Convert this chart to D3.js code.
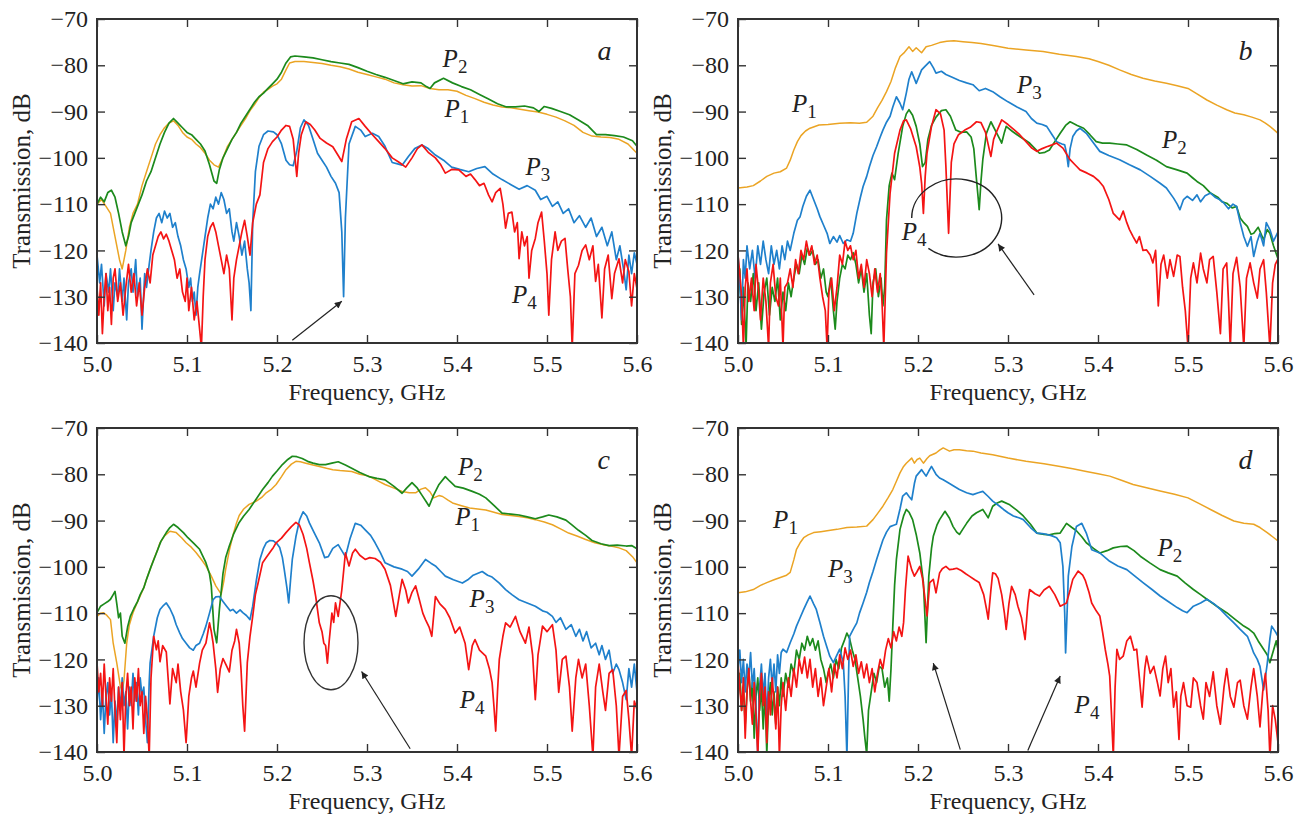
<!DOCTYPE html>
<html>
<head>
<meta charset="utf-8">
<script src="https://cdn.jsdelivr.net/npm/d3@7"></script>
<style>
  body { margin: 0; background: #fff; }
  svg text { font-family: "Liberation Serif", "Times New Roman", serif; fill: #222; }
</style>
</head>
<body>
<svg id="chart" width="1305" height="820"></svg>
<script>
// axis values
var freqTicks = [5.0, 5.1, 5.2, 5.3, 5.4, 5.5, 5.6];
var dbTicks = [-70, -80, -90, -100, -110, -120, -130, -140];
var panelNames = ["a", "b", "c", "d"];
var seriesNames = ["P1", "P2", "P3", "P4"];

// ---- panel a : [frequency GHz, transmission dB]
var aP1 = [[5.000,-110],[5.005,-109],[5.010,-110.5],[5.015,-112],[5.020,-117],[5.025,-122],[5.028,-124],[5.032,-120],[5.036,-115],[5.040,-112],[5.045,-110],[5.050,-106],[5.055,-103],[5.060,-100],[5.065,-97],[5.070,-95],[5.075,-93.5],[5.080,-92.5],[5.085,-92],[5.090,-93],[5.095,-94.5],[5.100,-95.5],[5.105,-96],[5.110,-97],[5.115,-97.8],[5.120,-99],[5.125,-100.5],[5.130,-101.5],[5.135,-102],[5.140,-100],[5.145,-97.5],[5.150,-96],[5.155,-94.5],[5.160,-93],[5.165,-91.5],[5.170,-89.8],[5.175,-88.5],[5.180,-87],[5.185,-85.8],[5.190,-85.2],[5.195,-84.5],[5.200,-84],[5.205,-83],[5.210,-81],[5.214,-79.5],[5.220,-79.2],[5.230,-79.2],[5.240,-79.4],[5.250,-79.6],[5.260,-80],[5.270,-80.3],[5.280,-80.8],[5.290,-81.5],[5.300,-82],[5.310,-82.5],[5.320,-83],[5.330,-83.8],[5.340,-84.2],[5.350,-84.5],[5.360,-84.4],[5.370,-85],[5.380,-85.3],[5.390,-85.3],[5.400,-85.6],[5.410,-86.5],[5.420,-87.2],[5.430,-88],[5.440,-88.6],[5.450,-89],[5.460,-89.2],[5.470,-89.5],[5.480,-89.8],[5.490,-90.1],[5.500,-90.6],[5.510,-91.2],[5.520,-92],[5.530,-93],[5.540,-94.5],[5.550,-95.3],[5.560,-95.5],[5.570,-95.6],[5.580,-96],[5.590,-97],[5.600,-99]];
var aP2 = [[5.000,-110],[5.004,-108.5],[5.008,-109.5],[5.012,-107.5],[5.016,-107],[5.020,-108.5],[5.024,-112],[5.028,-116],[5.032,-119],[5.035,-117],[5.038,-114],[5.042,-112],[5.046,-110],[5.050,-108],[5.055,-105],[5.060,-103],[5.065,-100],[5.070,-97],[5.075,-94.5],[5.080,-92.5],[5.085,-91.5],[5.090,-92.5],[5.095,-93.5],[5.100,-94.5],[5.105,-95],[5.110,-96],[5.115,-97],[5.120,-98.5],[5.125,-101.5],[5.130,-105],[5.133,-105.5],[5.136,-102.5],[5.140,-100],[5.145,-98],[5.150,-96],[5.155,-94.5],[5.160,-92.5],[5.165,-91],[5.170,-89.5],[5.175,-88],[5.180,-86.8],[5.185,-86],[5.190,-85],[5.195,-84],[5.200,-83],[5.205,-81.5],[5.210,-79.5],[5.215,-78.2],[5.220,-78],[5.230,-78.2],[5.240,-78.4],[5.250,-78.8],[5.260,-79.2],[5.270,-79.5],[5.280,-79.8],[5.290,-80.5],[5.300,-81.3],[5.310,-82],[5.320,-82.6],[5.330,-83.3],[5.340,-84],[5.350,-83.6],[5.360,-83.8],[5.366,-84.6],[5.370,-85],[5.375,-83.8],[5.385,-82.8],[5.395,-83.8],[5.405,-84.6],[5.415,-85.3],[5.425,-86.3],[5.435,-87.3],[5.445,-88.3],[5.455,-89],[5.465,-89],[5.475,-88.8],[5.485,-89.2],[5.491,-90],[5.497,-88.9],[5.505,-89.3],[5.515,-90],[5.525,-90.7],[5.535,-91.8],[5.545,-93],[5.555,-95],[5.565,-95],[5.575,-95.2],[5.585,-95.5],[5.595,-96.3],[5.600,-97.5]];
var aP3 = [[5.000,-121],[5.003,-127],[5.005,-123],[5.008,-132],[5.010,-125],[5.013,-129],[5.015,-124],[5.018,-133],[5.020,-127],[5.023,-130],[5.025,-124],[5.028,-131],[5.030,-126],[5.033,-135],[5.035,-127],[5.038,-124],[5.040,-129],[5.043,-122],[5.045,-130],[5.048,-126],[5.050,-137],[5.053,-125],[5.055,-128],[5.058,-123],[5.060,-120],[5.063,-116],[5.066,-113],[5.069,-112],[5.072,-114],[5.075,-111.5],[5.078,-113],[5.081,-112],[5.084,-115],[5.087,-114],[5.090,-117],[5.093,-119],[5.096,-122],[5.099,-124],[5.102,-128],[5.104,-126],[5.106,-131],[5.108,-129],[5.110,-134],[5.112,-128],[5.114,-125],[5.117,-121],[5.120,-117],[5.123,-113],[5.126,-110],[5.129,-111],[5.132,-108.5],[5.135,-110],[5.138,-107.5],[5.141,-109],[5.144,-112],[5.147,-111],[5.150,-116],[5.152,-118],[5.155,-114],[5.158,-117],[5.161,-121],[5.164,-118],[5.167,-124],[5.169,-127],[5.171,-133],[5.173,-114],[5.176,-103],[5.180,-97.5],[5.185,-95],[5.190,-94.2],[5.196,-94.4],[5.200,-95],[5.205,-97],[5.210,-100.5],[5.214,-101.5],[5.218,-101.7],[5.222,-98.5],[5.226,-93.5],[5.230,-91.8],[5.235,-93],[5.240,-96],[5.245,-99],[5.250,-100.5],[5.255,-102],[5.260,-104],[5.265,-105.5],[5.269,-107.5],[5.272,-116],[5.274,-130],[5.276,-113],[5.280,-97],[5.287,-93.2],[5.293,-94],[5.298,-95.4],[5.306,-94.7],[5.313,-95.4],[5.320,-97.5],[5.328,-101],[5.334,-101.3],[5.339,-101.6],[5.346,-99.7],[5.353,-98],[5.361,-97.2],[5.368,-98],[5.376,-99.4],[5.385,-100.5],[5.394,-102],[5.403,-102.5],[5.413,-103],[5.422,-102.3],[5.431,-101.9],[5.440,-103.5],[5.450,-104.7],[5.460,-105.8],[5.469,-106.8],[5.478,-106],[5.487,-107],[5.493,-109],[5.500,-108.3],[5.506,-110.5],[5.512,-109.5],[5.518,-112],[5.524,-111],[5.530,-114],[5.536,-112.5],[5.543,-115],[5.549,-113],[5.555,-117],[5.561,-115],[5.567,-119],[5.572,-116],[5.577,-122],[5.581,-119],[5.585,-124],[5.588,-128.5],[5.591,-121],[5.594,-125],[5.597,-120.5],[5.600,-123]];
var aP4 = [[5.000,-128],[5.002,-134],[5.004,-127],[5.006,-138],[5.008,-130],[5.010,-125],[5.012,-133],[5.014,-128],[5.016,-136],[5.018,-126],[5.020,-124],[5.023,-131],[5.026,-127],[5.029,-134],[5.032,-128],[5.035,-123],[5.038,-129],[5.041,-125],[5.044,-132],[5.047,-127],[5.050,-134],[5.053,-128],[5.056,-124],[5.059,-127],[5.062,-121],[5.065,-119],[5.068,-117],[5.071,-116],[5.074,-117.5],[5.077,-116.5],[5.080,-118],[5.083,-120],[5.086,-122],[5.089,-126],[5.092,-124],[5.095,-129],[5.098,-131],[5.100,-126],[5.102,-133],[5.105,-128],[5.108,-135],[5.111,-131],[5.114,-137],[5.116,-141],[5.118,-130],[5.120,-122],[5.123,-117],[5.126,-115],[5.129,-114],[5.132,-116],[5.135,-119],[5.138,-122],[5.141,-125],[5.144,-121],[5.147,-124],[5.150,-135],[5.152,-126],[5.155,-122],[5.158,-119],[5.161,-116],[5.164,-113.5],[5.167,-117],[5.170,-121],[5.173,-114],[5.177,-110],[5.181,-108],[5.185,-101],[5.190,-98],[5.195,-96.5],[5.200,-95.5],[5.205,-94],[5.210,-93],[5.214,-93.2],[5.218,-96],[5.221,-102],[5.222,-104],[5.224,-99],[5.227,-95],[5.232,-92.2],[5.237,-92.8],[5.242,-94],[5.248,-95.8],[5.255,-96.8],[5.262,-97.6],[5.268,-99.5],[5.272,-100.8],[5.277,-96],[5.283,-92.2],[5.291,-91.5],[5.298,-93.2],[5.305,-94.8],[5.313,-96.5],[5.320,-98],[5.328,-100],[5.336,-101],[5.343,-102],[5.350,-100],[5.356,-98],[5.361,-97.2],[5.368,-98.8],[5.376,-100],[5.382,-101.5],[5.387,-103.3],[5.394,-102.5],[5.402,-102.6],[5.410,-104],[5.415,-103.5],[5.420,-104.7],[5.425,-106],[5.430,-105.5],[5.435,-108],[5.439,-109.5],[5.443,-107.5],[5.448,-106.6],[5.451,-110],[5.454,-115.2],[5.457,-112],[5.461,-111.7],[5.464,-116],[5.467,-114],[5.469,-121.8],[5.472,-116],[5.475,-119],[5.478,-117],[5.480,-126],[5.483,-120],[5.487,-117.4],[5.490,-114],[5.494,-111.7],[5.497,-118],[5.500,-125],[5.502,-134],[5.505,-122],[5.509,-116],[5.512,-120],[5.516,-118],[5.520,-117.4],[5.523,-124],[5.526,-130],[5.528,-141],[5.531,-125],[5.535,-123.2],[5.539,-120],[5.543,-118.8],[5.547,-122],[5.551,-119],[5.554,-126.7],[5.557,-123],[5.561,-134.6],[5.564,-124],[5.568,-121],[5.572,-130.4],[5.575,-125],[5.580,-121.8],[5.584,-127],[5.587,-122],[5.591,-124.6],[5.594,-132],[5.597,-125],[5.600,-128.3]];

// ---- panel b
var bP1 = [[5.000,-106.5],[5.010,-106.3],[5.017,-106],[5.025,-105],[5.032,-104],[5.040,-103.3],[5.047,-103],[5.054,-102.2],[5.058,-100.5],[5.062,-98.3],[5.066,-96.5],[5.070,-95.2],[5.075,-94.2],[5.080,-93.6],[5.090,-92.9],[5.100,-92.8],[5.113,-92.5],[5.125,-92.4],[5.135,-92.5],[5.143,-92.3],[5.150,-91],[5.155,-89.2],[5.160,-87.6],[5.165,-85.7],[5.170,-83.5],[5.175,-80.5],[5.180,-78.1],[5.185,-77.2],[5.190,-76],[5.194,-77],[5.198,-76.2],[5.204,-77.3],[5.209,-76],[5.215,-75.7],[5.224,-75.1],[5.232,-74.8],[5.240,-74.7],[5.250,-74.9],[5.260,-75.1],[5.270,-75.3],[5.285,-75.8],[5.300,-76.3],[5.320,-76.7],[5.339,-77],[5.357,-77.6],[5.376,-78.1],[5.390,-78.6],[5.400,-79.2],[5.412,-80],[5.424,-81],[5.437,-82],[5.450,-82.8],[5.463,-83.4],[5.476,-83.9],[5.488,-84.4],[5.500,-85],[5.510,-86.2],[5.521,-87.5],[5.532,-88.6],[5.543,-89.6],[5.552,-90.3],[5.562,-90.7],[5.571,-91.2],[5.580,-91.8],[5.586,-92.5],[5.591,-93.2],[5.596,-94],[5.600,-94.7]];
var bP2 = [[5.000,-130],[5.002,-124],[5.004,-136],[5.006,-128],[5.009,-140.5],[5.011,-127],[5.014,-131],[5.017,-125],[5.020,-133],[5.023,-127],[5.026,-137],[5.029,-129],[5.032,-126],[5.035,-134],[5.038,-128],[5.041,-131],[5.044,-126],[5.047,-135],[5.050,-129],[5.053,-133],[5.056,-127],[5.059,-130],[5.062,-126],[5.065,-123],[5.068,-125],[5.071,-121],[5.074,-123],[5.077,-119.5],[5.080,-121],[5.083,-120],[5.086,-123],[5.089,-122],[5.092,-126],[5.095,-124],[5.098,-129],[5.100,-130],[5.103,-126],[5.106,-133],[5.108,-137],[5.110,-131],[5.113,-126],[5.116,-123],[5.119,-124],[5.122,-121],[5.125,-122],[5.128,-120.5],[5.131,-123],[5.134,-127],[5.137,-124],[5.140,-129],[5.143,-125],[5.146,-134],[5.148,-138],[5.150,-127],[5.153,-124],[5.156,-130],[5.159,-126],[5.161,-132],[5.163,-128],[5.165,-113.4],[5.168,-106],[5.171,-103.3],[5.174,-104.7],[5.178,-99],[5.183,-93.2],[5.187,-90.5],[5.190,-89.6],[5.194,-90.8],[5.198,-93.2],[5.202,-97],[5.205,-101.9],[5.208,-101],[5.211,-96],[5.215,-93],[5.220,-91.2],[5.226,-89.8],[5.231,-89.6],[5.236,-91],[5.242,-94],[5.248,-94.5],[5.254,-94.4],[5.259,-95.5],[5.262,-98],[5.265,-104.7],[5.267,-109],[5.268,-111.2],[5.270,-105],[5.272,-100.4],[5.276,-94.7],[5.281,-92.2],[5.287,-94.5],[5.291,-96],[5.293,-96.8],[5.296,-94.5],[5.298,-93.2],[5.305,-94.3],[5.313,-95.4],[5.324,-96.8],[5.335,-99],[5.341,-98.8],[5.346,-98.3],[5.352,-96.5],[5.358,-94.7],[5.364,-93],[5.369,-92.2],[5.377,-93],[5.384,-93.6],[5.391,-95],[5.398,-96.5],[5.405,-96.8],[5.413,-96.8],[5.422,-97],[5.432,-97.2],[5.443,-98.2],[5.454,-99.4],[5.465,-100.5],[5.476,-101.9],[5.488,-102.6],[5.499,-103.3],[5.505,-104.3],[5.510,-105.1],[5.517,-106],[5.525,-107.6],[5.533,-108.5],[5.538,-109.5],[5.543,-109.8],[5.549,-110.8],[5.554,-110.5],[5.558,-113],[5.562,-114],[5.566,-114.8],[5.570,-116.5],[5.573,-116.3],[5.578,-115],[5.584,-117.7],[5.588,-115.5],[5.591,-116.3],[5.595,-119],[5.600,-121.8]];
var bP3 = [[5.000,-121],[5.002,-127],[5.004,-135],[5.006,-122],[5.008,-126],[5.010,-119],[5.013,-124],[5.016,-120],[5.019,-126],[5.022,-119],[5.025,-123],[5.028,-118],[5.031,-122],[5.034,-125],[5.037,-119],[5.040,-123],[5.043,-120],[5.046,-124],[5.049,-119],[5.052,-122],[5.055,-118],[5.058,-120],[5.062,-116.3],[5.066,-113.5],[5.069,-112.7],[5.072,-110.5],[5.076,-108.3],[5.080,-107],[5.084,-109],[5.088,-111],[5.091,-112.7],[5.095,-114.5],[5.099,-116.3],[5.102,-118.5],[5.106,-117],[5.110,-118.2],[5.113,-116.8],[5.117,-118.5],[5.121,-117.7],[5.125,-118],[5.128,-116.3],[5.132,-112],[5.136,-108.5],[5.139,-106.2],[5.143,-104],[5.146,-101.9],[5.150,-99.5],[5.154,-97.6],[5.158,-95.5],[5.161,-94],[5.165,-92.3],[5.169,-91],[5.172,-89],[5.176,-86.8],[5.180,-88.2],[5.183,-89.6],[5.187,-86],[5.190,-83],[5.193,-81.4],[5.198,-83.9],[5.204,-81],[5.208,-80.2],[5.213,-79.2],[5.217,-80.5],[5.220,-81.7],[5.226,-81.3],[5.231,-82],[5.238,-82.6],[5.246,-83.3],[5.254,-83.8],[5.261,-84.2],[5.268,-85.5],[5.275,-85],[5.283,-85.7],[5.291,-86.8],[5.300,-87.9],[5.310,-89],[5.320,-90],[5.326,-91.5],[5.332,-92.5],[5.338,-92.8],[5.343,-93.2],[5.349,-95],[5.354,-96.5],[5.360,-97],[5.363,-97.2],[5.365,-99],[5.367,-101.9],[5.369,-98],[5.372,-95.4],[5.376,-94.2],[5.380,-93.6],[5.387,-94.7],[5.394,-96.5],[5.402,-98.6],[5.412,-99.5],[5.424,-100.4],[5.435,-101.5],[5.447,-102.6],[5.458,-104],[5.469,-105.5],[5.476,-106.5],[5.484,-108.7],[5.488,-110],[5.491,-111.2],[5.495,-109],[5.499,-108.3],[5.505,-109.2],[5.510,-108],[5.514,-109.5],[5.519,-108.2],[5.525,-107.6],[5.530,-108.5],[5.535,-109],[5.540,-109.8],[5.545,-111],[5.550,-110],[5.554,-110.5],[5.558,-114],[5.562,-117],[5.566,-119.1],[5.570,-117],[5.573,-121.3],[5.577,-118],[5.580,-116.3],[5.584,-119],[5.587,-114],[5.591,-115.5],[5.595,-118],[5.600,-116]];
var bP4 = [[5.000,-121],[5.002,-125],[5.004,-130],[5.006,-141],[5.008,-128],[5.010,-124],[5.012,-131],[5.015,-126],[5.018,-133],[5.020,-123],[5.023,-129],[5.025,-135],[5.028,-126],[5.031,-131],[5.034,-141],[5.036,-127],[5.039,-123],[5.042,-130],[5.045,-132],[5.047,-126],[5.050,-141],[5.052,-128],[5.055,-127],[5.058,-124],[5.061,-128],[5.064,-122],[5.067,-125],[5.070,-120],[5.073,-122],[5.076,-118],[5.079,-121],[5.082,-119],[5.085,-123],[5.088,-121],[5.091,-126],[5.094,-130],[5.097,-133],[5.099,-141],[5.101,-129],[5.104,-126],[5.107,-133],[5.110,-128],[5.113,-121],[5.116,-123],[5.119,-118],[5.122,-120],[5.125,-119],[5.128,-122],[5.131,-120],[5.134,-126],[5.137,-123],[5.140,-128],[5.143,-122],[5.146,-125],[5.149,-130],[5.152,-124],[5.155,-129],[5.158,-125],[5.160,-131],[5.162,-141],[5.165,-120.6],[5.169,-107.6],[5.174,-99],[5.180,-94],[5.184,-92],[5.187,-91.8],[5.192,-93.8],[5.198,-97.6],[5.202,-102],[5.204,-105.5],[5.206,-112],[5.208,-104],[5.210,-99],[5.215,-93.2],[5.220,-89.6],[5.225,-90.5],[5.229,-94],[5.231,-101.9],[5.234,-116.3],[5.237,-101],[5.240,-97],[5.245,-95],[5.252,-94],[5.258,-93.4],[5.265,-92.2],[5.270,-92.4],[5.275,-94.5],[5.279,-98],[5.281,-99.7],[5.284,-96],[5.287,-94.5],[5.293,-91.8],[5.300,-92.8],[5.306,-93.8],[5.313,-95],[5.320,-96.5],[5.326,-97.8],[5.332,-98.6],[5.338,-98],[5.343,-97.6],[5.349,-97.2],[5.354,-96.8],[5.361,-97.9],[5.369,-100.4],[5.375,-101.6],[5.380,-102.6],[5.388,-103.3],[5.395,-104],[5.401,-105],[5.406,-106.2],[5.412,-109],[5.417,-112],[5.421,-112.8],[5.424,-113.4],[5.428,-111.5],[5.432,-114],[5.435,-115.5],[5.439,-117],[5.443,-118.4],[5.446,-117],[5.450,-120],[5.454,-119.9],[5.458,-121],[5.461,-122.7],[5.464,-120],[5.467,-132],[5.470,-123],[5.473,-121],[5.477,-126],[5.480,-122],[5.484,-125.6],[5.488,-121],[5.491,-121.3],[5.494,-128],[5.497,-133],[5.500,-141],[5.503,-126],[5.506,-122.7],[5.510,-127],[5.514,-120.6],[5.517,-124],[5.521,-127],[5.524,-122],[5.528,-121.3],[5.532,-129],[5.536,-138],[5.539,-124],[5.543,-122.7],[5.545,-131],[5.547,-141],[5.550,-125],[5.554,-121.5],[5.558,-128],[5.562,-141],[5.565,-126],[5.569,-122.7],[5.573,-127],[5.577,-130.3],[5.580,-124],[5.584,-122],[5.587,-129],[5.591,-141],[5.594,-127],[5.597,-123],[5.600,-121.8]];

// ---- panel c
var cP1 = [[5.000,-110.7],[5.004,-110],[5.007,-109.9],[5.011,-110.5],[5.015,-111.4],[5.018,-116.5],[5.022,-120.8],[5.026,-125.8],[5.028,-127],[5.030,-124.5],[5.033,-116.5],[5.036,-112.5],[5.040,-109.9],[5.044,-108],[5.048,-106.3],[5.052,-104.5],[5.055,-102.7],[5.059,-100.5],[5.063,-98.4],[5.067,-96.5],[5.070,-94.8],[5.075,-93.3],[5.081,-92.3],[5.088,-92.6],[5.094,-93.7],[5.099,-94.8],[5.105,-95.8],[5.110,-96.9],[5.116,-98.4],[5.121,-99.8],[5.127,-102],[5.132,-104.1],[5.138,-105.9],[5.141,-103],[5.143,-100.5],[5.147,-96.5],[5.151,-93.2],[5.155,-90.5],[5.158,-88.9],[5.163,-87.5],[5.169,-86.5],[5.177,-85.8],[5.183,-85],[5.188,-84],[5.194,-83.2],[5.199,-82.2],[5.205,-80.5],[5.210,-79],[5.216,-77.8],[5.221,-77.2],[5.226,-77.3],[5.232,-77.6],[5.240,-78],[5.247,-78.3],[5.255,-78.7],[5.262,-79],[5.270,-79.2],[5.283,-79.4],[5.292,-80],[5.302,-80.4],[5.311,-81.3],[5.320,-82.2],[5.330,-83],[5.339,-83.7],[5.347,-84],[5.354,-84],[5.360,-83.2],[5.365,-82.9],[5.370,-83.8],[5.374,-85.1],[5.380,-84.6],[5.384,-84.8],[5.390,-85.6],[5.395,-86.2],[5.405,-86.8],[5.414,-87.3],[5.423,-87.5],[5.432,-87.7],[5.441,-88.2],[5.450,-88.7],[5.460,-88.9],[5.469,-89.1],[5.478,-89.4],[5.487,-89.8],[5.497,-90.3],[5.506,-90.9],[5.515,-91.8],[5.524,-92.7],[5.534,-93.4],[5.543,-94.1],[5.553,-94.8],[5.562,-95.2],[5.571,-95.5],[5.580,-95.9],[5.588,-96.5],[5.595,-97.8],[5.600,-99.1]];
var cP2 = [[5.000,-109.9],[5.004,-108.5],[5.008,-108],[5.012,-107.5],[5.015,-107],[5.018,-106],[5.020,-105.3],[5.022,-108],[5.024,-111],[5.026,-110],[5.028,-115],[5.031,-116.5],[5.034,-113],[5.037,-110.7],[5.041,-109],[5.045,-107.5],[5.048,-106],[5.052,-104.5],[5.055,-102.7],[5.060,-100],[5.066,-97],[5.071,-94.5],[5.077,-92.6],[5.081,-91.5],[5.085,-90.8],[5.090,-91.5],[5.096,-92.6],[5.101,-93.7],[5.107,-94.8],[5.114,-96.2],[5.121,-99.1],[5.125,-101.5],[5.127,-104.1],[5.130,-113.5],[5.133,-116.4],[5.136,-109.2],[5.140,-101.4],[5.143,-98],[5.147,-95.5],[5.152,-92.8],[5.158,-90.4],[5.163,-89],[5.169,-87.6],[5.176,-85.6],[5.184,-83.3],[5.190,-81.8],[5.195,-80.4],[5.200,-79.3],[5.206,-77.9],[5.212,-76.8],[5.217,-76.1],[5.222,-76.2],[5.228,-76.6],[5.234,-77.2],[5.240,-77.6],[5.247,-77.9],[5.254,-77.9],[5.261,-77.6],[5.268,-77.3],[5.276,-78],[5.283,-78.7],[5.292,-79.6],[5.302,-80.5],[5.311,-80.9],[5.320,-81.2],[5.330,-82.6],[5.339,-84.1],[5.344,-83],[5.350,-81.8],[5.356,-83],[5.361,-84.5],[5.366,-86],[5.369,-86.9],[5.374,-84.5],[5.380,-82.2],[5.387,-80.5],[5.392,-81.5],[5.398,-82.6],[5.407,-83],[5.417,-83.7],[5.425,-84.3],[5.432,-85.1],[5.441,-86.7],[5.450,-88.4],[5.460,-88.6],[5.469,-88.8],[5.478,-89.2],[5.487,-89.6],[5.495,-89.2],[5.502,-88.8],[5.511,-89.2],[5.521,-89.9],[5.528,-91],[5.535,-92.1],[5.543,-93.2],[5.550,-94.3],[5.560,-95],[5.569,-95.4],[5.578,-95.3],[5.588,-95.5],[5.594,-95.4],[5.600,-96.1]];
var cP3 = [[5.000,-129.6],[5.002,-124],[5.004,-133],[5.006,-127],[5.008,-136],[5.010,-128],[5.012,-125],[5.014,-132],[5.016,-127],[5.018,-138],[5.020,-129],[5.022,-134],[5.024,-126],[5.026,-131],[5.028,-124],[5.030,-130],[5.032,-127],[5.034,-135],[5.036,-126],[5.038,-130],[5.040,-123],[5.042,-129],[5.044,-125],[5.046,-132],[5.048,-124],[5.050,-128],[5.052,-126],[5.054,-133],[5.056,-138],[5.058,-125],[5.059,-120.8],[5.063,-115],[5.067,-111],[5.070,-109.2],[5.074,-108.3],[5.077,-107.8],[5.081,-109],[5.085,-110.7],[5.088,-112.5],[5.092,-114.3],[5.095,-115.5],[5.099,-116.5],[5.103,-117.5],[5.107,-118],[5.110,-117],[5.114,-116.5],[5.118,-114.5],[5.121,-112.8],[5.125,-110],[5.129,-107.1],[5.132,-106.5],[5.136,-106.4],[5.140,-107.5],[5.144,-108.5],[5.148,-109.5],[5.151,-109.2],[5.155,-110],[5.159,-109.3],[5.162,-109.9],[5.166,-110.5],[5.170,-111.4],[5.173,-108.5],[5.177,-103],[5.181,-98.4],[5.185,-96],[5.188,-94.8],[5.192,-94.3],[5.196,-94.4],[5.200,-95],[5.203,-95.8],[5.206,-98],[5.208,-100.5],[5.211,-104.5],[5.213,-107.8],[5.215,-103],[5.217,-98.4],[5.221,-93.5],[5.225,-89.9],[5.229,-88.1],[5.233,-89],[5.236,-90.5],[5.241,-92.5],[5.247,-94.8],[5.253,-98],[5.257,-97.8],[5.262,-96],[5.268,-95.2],[5.272,-96.5],[5.276,-97.8],[5.281,-94],[5.287,-90.6],[5.293,-91],[5.298,-92],[5.304,-93.2],[5.309,-94.8],[5.315,-97],[5.320,-99.1],[5.330,-100],[5.339,-100.5],[5.345,-101],[5.350,-102],[5.357,-100.5],[5.365,-98.4],[5.371,-99.2],[5.376,-99.8],[5.382,-101],[5.387,-102],[5.396,-102.8],[5.406,-103.5],[5.412,-102.8],[5.418,-101.8],[5.428,-101],[5.434,-101.8],[5.439,-102.2],[5.447,-103.5],[5.454,-104.9],[5.461,-106],[5.469,-107.1],[5.478,-107.8],[5.487,-108.5],[5.495,-109.5],[5.500,-109.8],[5.506,-110.7],[5.510,-112],[5.515,-111],[5.521,-113.5],[5.527,-112.5],[5.532,-115],[5.536,-113.5],[5.540,-116],[5.544,-114],[5.549,-117.5],[5.554,-116.5],[5.558,-119],[5.561,-117],[5.565,-120],[5.569,-118],[5.573,-123],[5.577,-121],[5.580,-122.2],[5.584,-125],[5.588,-128.7],[5.591,-122],[5.594,-126],[5.597,-121],[5.600,-127]];
var cP4 = [[5.000,-120.8],[5.002,-127],[5.004,-123],[5.006,-130],[5.008,-121],[5.010,-128],[5.012,-134],[5.014,-124],[5.016,-129],[5.018,-122],[5.020,-131],[5.022,-138],[5.024,-126],[5.026,-133],[5.028,-125],[5.030,-141],[5.032,-128],[5.034,-123],[5.036,-130],[5.038,-126],[5.040,-135],[5.042,-124],[5.044,-129],[5.046,-122],[5.048,-130],[5.050,-127],[5.052,-136],[5.054,-128],[5.056,-133],[5.058,-141],[5.060,-124],[5.063,-115],[5.066,-117.9],[5.068,-116],[5.070,-120.5],[5.073,-117],[5.077,-118.4],[5.079,-124],[5.081,-129.6],[5.084,-122],[5.088,-125],[5.090,-121],[5.093,-127],[5.096,-130.9],[5.099,-138],[5.102,-128],[5.105,-124],[5.107,-122.5],[5.110,-126],[5.114,-120.8],[5.117,-118],[5.121,-116.5],[5.125,-112.1],[5.127,-114],[5.129,-116.5],[5.132,-122],[5.134,-127.1],[5.137,-122],[5.140,-119.8],[5.143,-121],[5.147,-122.7],[5.150,-118],[5.153,-116],[5.155,-113.5],[5.158,-116.5],[5.160,-122],[5.162,-130],[5.164,-135.5],[5.167,-120.7],[5.170,-115],[5.173,-110.7],[5.176,-106],[5.179,-103.5],[5.184,-99.1],[5.188,-98],[5.192,-96.9],[5.196,-95.8],[5.199,-94.8],[5.205,-93.8],[5.210,-92.6],[5.216,-91.3],[5.221,-90.4],[5.225,-91],[5.229,-93],[5.233,-96],[5.236,-99.1],[5.240,-103],[5.243,-106.4],[5.247,-112.1],[5.250,-114],[5.252,-116.5],[5.254,-117],[5.256,-120.8],[5.258,-116],[5.261,-110],[5.263,-112],[5.265,-107.8],[5.268,-110.7],[5.272,-105],[5.276,-97],[5.280,-99.8],[5.284,-97],[5.287,-96.2],[5.292,-97.5],[5.298,-98.4],[5.303,-98],[5.309,-98.2],[5.315,-99],[5.320,-100.5],[5.326,-104],[5.332,-110.7],[5.336,-106],[5.339,-102.7],[5.343,-105],[5.346,-107.8],[5.350,-105.5],[5.354,-104.1],[5.358,-107],[5.362,-110],[5.365,-111.4],[5.369,-113],[5.372,-115],[5.376,-106.4],[5.381,-108],[5.387,-109.2],[5.392,-111],[5.398,-114.3],[5.403,-113],[5.409,-116.5],[5.413,-122.2],[5.417,-117],[5.420,-115.7],[5.425,-118],[5.432,-119.3],[5.436,-122],[5.439,-125],[5.441,-130],[5.443,-135.5],[5.445,-127],[5.447,-120],[5.451,-115],[5.454,-112.1],[5.459,-113],[5.465,-110.7],[5.470,-114],[5.476,-116.5],[5.480,-113],[5.484,-119],[5.487,-128.7],[5.490,-119],[5.495,-112.8],[5.500,-114],[5.506,-112.5],[5.510,-118],[5.513,-127.1],[5.517,-120],[5.521,-119.3],[5.525,-126],[5.528,-135.5],[5.532,-124],[5.535,-120],[5.539,-124],[5.543,-121],[5.547,-130],[5.551,-141],[5.554,-126],[5.558,-121],[5.562,-127],[5.565,-131],[5.569,-123],[5.573,-122.2],[5.577,-130],[5.580,-141],[5.584,-128],[5.588,-126.7],[5.591,-133],[5.594,-141],[5.597,-129],[5.600,-130.8]];

// ---- panel d
var dP1 = [[5.000,-105.6],[5.008,-105.4],[5.017,-104.9],[5.025,-104],[5.032,-103.4],[5.040,-102.8],[5.047,-102.3],[5.054,-101.8],[5.058,-101.2],[5.062,-98.5],[5.065,-96.2],[5.069,-94.8],[5.073,-93.7],[5.078,-93.1],[5.084,-92.6],[5.092,-92.4],[5.099,-92.2],[5.110,-91.9],[5.121,-91.5],[5.132,-91.4],[5.143,-91.2],[5.150,-89.8],[5.155,-88.5],[5.161,-86.9],[5.167,-85],[5.172,-83.3],[5.176,-81.5],[5.180,-79.7],[5.184,-78.3],[5.187,-77.6],[5.193,-76.5],[5.196,-77.6],[5.199,-76.8],[5.202,-76.5],[5.206,-77.6],[5.210,-76.6],[5.213,-76],[5.220,-75.4],[5.224,-74.8],[5.228,-74.3],[5.235,-75],[5.240,-74.7],[5.246,-74.7],[5.254,-74.9],[5.261,-75],[5.270,-75.4],[5.283,-75.8],[5.300,-76.5],[5.320,-77.2],[5.340,-77.7],[5.358,-78.3],[5.372,-78.8],[5.387,-79.4],[5.400,-79.9],[5.413,-80.4],[5.426,-81.3],[5.439,-82.2],[5.454,-82.9],[5.469,-83.6],[5.485,-84.3],[5.500,-85.1],[5.512,-86.3],[5.525,-87.6],[5.538,-88.9],[5.551,-90.1],[5.562,-90.6],[5.573,-90.8],[5.580,-91.5],[5.588,-92.6],[5.594,-93.5],[5.600,-94.4]];
var dP2 = [[5.000,-128.6],[5.002,-123],[5.004,-131],[5.006,-126],[5.008,-134],[5.010,-127],[5.012,-122],[5.014,-129],[5.016,-125],[5.018,-137],[5.020,-128],[5.022,-124],[5.024,-131],[5.026,-126],[5.028,-135],[5.030,-127],[5.032,-140.5],[5.034,-129],[5.036,-125],[5.038,-132],[5.040,-127],[5.042,-134],[5.044,-126],[5.046,-130],[5.048,-124],[5.050,-128],[5.053,-123],[5.056,-126],[5.059,-121],[5.062,-123],[5.065,-118],[5.068,-120],[5.071,-116.5],[5.074,-118],[5.077,-115],[5.080,-117],[5.083,-115.5],[5.086,-118],[5.089,-116],[5.092,-120],[5.095,-122],[5.098,-125],[5.100,-123],[5.103,-121],[5.106,-124],[5.109,-120],[5.112,-122],[5.115,-117.5],[5.118,-116],[5.121,-114.3],[5.124,-115.5],[5.127,-118],[5.130,-120],[5.133,-124],[5.136,-128],[5.139,-133],[5.141,-137],[5.143,-140.5],[5.145,-131],[5.148,-127],[5.151,-123],[5.154,-125],[5.157,-121.5],[5.160,-122],[5.163,-126],[5.166,-124],[5.168,-129],[5.170,-122],[5.172,-112.8],[5.174,-104],[5.176,-98.4],[5.180,-91.9],[5.184,-89],[5.187,-87.6],[5.190,-88.2],[5.194,-89.8],[5.198,-93],[5.202,-97],[5.206,-103.4],[5.209,-116.4],[5.212,-102],[5.215,-96],[5.217,-93.4],[5.221,-91],[5.224,-89.8],[5.230,-88],[5.235,-89.5],[5.239,-91.3],[5.243,-92.5],[5.246,-93],[5.250,-91.8],[5.254,-90.6],[5.260,-89],[5.265,-88.3],[5.272,-87.6],[5.275,-88.5],[5.278,-89.4],[5.283,-86.9],[5.288,-86.2],[5.293,-85.8],[5.302,-86.6],[5.310,-87.8],[5.317,-89],[5.325,-90.8],[5.332,-92.7],[5.340,-93],[5.346,-93.1],[5.352,-92.8],[5.358,-92.7],[5.365,-90.6],[5.371,-91.5],[5.376,-92.2],[5.382,-93.5],[5.387,-94.8],[5.395,-96],[5.402,-97],[5.410,-96.5],[5.417,-95.9],[5.425,-95.6],[5.432,-95.5],[5.440,-96.5],[5.447,-97.7],[5.458,-99.2],[5.469,-100.6],[5.478,-101.3],[5.488,-102],[5.497,-103.5],[5.506,-104.9],[5.514,-106],[5.521,-107],[5.532,-108.5],[5.543,-109.9],[5.552,-111.3],[5.562,-112.8],[5.568,-113.5],[5.573,-114.3],[5.578,-116],[5.584,-117.8],[5.588,-119],[5.591,-120.7],[5.595,-118],[5.598,-116],[5.600,-117.8]];
var dP3 = [[5.000,-122.2],[5.002,-118],[5.004,-125],[5.006,-120],[5.008,-127],[5.010,-121],[5.012,-124],[5.014,-118.5],[5.016,-126],[5.018,-122],[5.020,-130],[5.022,-140.5],[5.024,-126],[5.026,-121],[5.028,-128],[5.030,-123],[5.032,-133],[5.034,-124],[5.036,-120],[5.038,-126],[5.040,-121],[5.042,-127],[5.044,-119],[5.046,-123],[5.048,-118.5],[5.050,-117.8],[5.054,-118.5],[5.058,-116.4],[5.062,-114.5],[5.065,-112.8],[5.069,-111],[5.073,-109.2],[5.077,-107.5],[5.080,-106.3],[5.084,-108],[5.087,-109.2],[5.091,-112],[5.095,-115],[5.099,-117.5],[5.102,-119.3],[5.106,-120.7],[5.110,-119],[5.113,-117.8],[5.117,-120.7],[5.119,-128],[5.121,-141],[5.123,-122],[5.124,-115],[5.128,-113.5],[5.132,-112.1],[5.135,-110],[5.139,-107.8],[5.143,-105.5],[5.146,-103.4],[5.150,-101],[5.154,-98.4],[5.158,-96],[5.161,-94.2],[5.165,-92.5],[5.169,-91.3],[5.173,-91],[5.176,-90.8],[5.180,-87.5],[5.183,-84.7],[5.187,-84],[5.190,-84.8],[5.193,-85.5],[5.196,-82],[5.198,-80.4],[5.204,-79],[5.209,-80.4],[5.212,-79.3],[5.215,-78.3],[5.220,-80],[5.224,-80.8],[5.228,-81.2],[5.235,-82],[5.240,-82.6],[5.246,-83.3],[5.254,-84],[5.261,-84.4],[5.267,-84],[5.272,-83.7],[5.278,-84.8],[5.283,-85.8],[5.290,-86.8],[5.295,-87.6],[5.300,-88.3],[5.306,-89],[5.312,-89.4],[5.317,-89.8],[5.325,-91.5],[5.332,-92.7],[5.338,-92.8],[5.343,-93],[5.349,-93.3],[5.354,-93.7],[5.358,-94.8],[5.361,-99.9],[5.363,-110],[5.364,-118.6],[5.366,-108],[5.367,-102],[5.371,-95.6],[5.376,-91.3],[5.382,-90.6],[5.387,-92.7],[5.393,-96.3],[5.402,-97],[5.413,-98.8],[5.422,-99.8],[5.432,-100.6],[5.441,-102],[5.450,-103.4],[5.460,-104.9],[5.469,-106.3],[5.478,-107.5],[5.488,-108.8],[5.494,-109.5],[5.499,-109.9],[5.506,-108.5],[5.514,-107.8],[5.521,-107],[5.529,-108],[5.536,-109.2],[5.543,-110.6],[5.551,-112.1],[5.558,-113.5],[5.566,-115],[5.570,-117],[5.573,-118.6],[5.577,-120],[5.580,-121.5],[5.584,-126.6],[5.588,-121],[5.591,-115.5],[5.593,-112.8],[5.597,-114],[5.600,-115]];
var dP4 = [[5.000,-120.7],[5.002,-126],[5.004,-131],[5.006,-124],[5.008,-137],[5.010,-127],[5.012,-122],[5.014,-129],[5.016,-134],[5.018,-125],[5.020,-132],[5.022,-141],[5.024,-128],[5.026,-123],[5.028,-130],[5.030,-126],[5.032,-138],[5.034,-127],[5.036,-132],[5.038,-124],[5.040,-129],[5.042,-135],[5.044,-126],[5.046,-141],[5.048,-130],[5.050,-125],[5.053,-131],[5.056,-124],[5.059,-128],[5.062,-122],[5.065,-126],[5.068,-120],[5.071,-123],[5.074,-119.5],[5.077,-124],[5.080,-120],[5.083,-126],[5.086,-122],[5.089,-128],[5.092,-124],[5.095,-130],[5.098,-126],[5.101,-122],[5.104,-127],[5.107,-121],[5.110,-124],[5.113,-119],[5.116,-122],[5.119,-117.5],[5.122,-120],[5.125,-118],[5.128,-121.5],[5.131,-119],[5.134,-123],[5.137,-120.5],[5.140,-124],[5.143,-121],[5.146,-125],[5.149,-122],[5.152,-127],[5.155,-123],[5.158,-120],[5.161,-122],[5.164,-118],[5.167,-115.5],[5.170,-117.5],[5.173,-114],[5.176,-116],[5.179,-113],[5.182,-115],[5.184,-112],[5.186,-105],[5.188,-100],[5.189,-97.7],[5.193,-100.6],[5.196,-102],[5.199,-101],[5.202,-99.9],[5.205,-102.5],[5.207,-105.6],[5.210,-110.6],[5.213,-103.4],[5.217,-102.7],[5.220,-105.6],[5.224,-101.3],[5.227,-100.4],[5.231,-99.9],[5.235,-100.6],[5.239,-100.5],[5.243,-100.3],[5.248,-100.8],[5.253,-101.5],[5.257,-102],[5.263,-102.8],[5.268,-103.4],[5.273,-106],[5.276,-109],[5.278,-111.3],[5.281,-105],[5.283,-101.3],[5.286,-101.5],[5.289,-102.5],[5.293,-106],[5.296,-110],[5.298,-113.5],[5.301,-108],[5.304,-104.2],[5.308,-106],[5.311,-108.5],[5.315,-111],[5.319,-115.7],[5.322,-108],[5.324,-104.9],[5.330,-105.8],[5.335,-106.3],[5.340,-105],[5.346,-104.2],[5.352,-106],[5.358,-108.5],[5.365,-107.8],[5.369,-105],[5.372,-102.7],[5.378,-100.9],[5.383,-101.8],[5.386,-103],[5.390,-105.5],[5.393,-107.8],[5.398,-109.5],[5.402,-110.6],[5.405,-114],[5.408,-117.8],[5.411,-121],[5.413,-123.6],[5.415,-132],[5.417,-141],[5.419,-126],[5.421,-117.8],[5.424,-120],[5.428,-119.3],[5.432,-116],[5.436,-115],[5.440,-118],[5.443,-117.8],[5.446,-124],[5.449,-130.3],[5.452,-122],[5.454,-119.3],[5.458,-123],[5.462,-121.5],[5.466,-125],[5.469,-127.9],[5.472,-122],[5.475,-119.3],[5.478,-125],[5.481,-122],[5.484,-130.3],[5.487,-127],[5.490,-137.3],[5.492,-128],[5.495,-125],[5.499,-130],[5.503,-130.3],[5.506,-124],[5.510,-125],[5.514,-130],[5.517,-132.9],[5.520,-125],[5.524,-128],[5.528,-122.7],[5.532,-130],[5.536,-134],[5.540,-126],[5.543,-122],[5.547,-128],[5.551,-130.3],[5.555,-125],[5.558,-124.5],[5.562,-130],[5.566,-132.9],[5.570,-126],[5.573,-122],[5.577,-128],[5.580,-134.6],[5.583,-127],[5.586,-123],[5.589,-131],[5.591,-141],[5.594,-130],[5.597,-133],[5.600,-138]];

var panelData = {
  a: { P1: aP1, P2: aP2, P3: aP3, P4: aP4 },
  b: { P1: bP1, P2: bP2, P3: bP3, P4: bP4 },
  c: { P1: cP1, P2: cP2, P3: cP3, P4: cP4 },
  d: { P1: dP1, P2: dP2, P3: dP3, P4: dP4 }
};

// ---- layout and styles
var colors = { P1: "#eba424", P2: "#1c8a1c", P3: "#1f80cc", P4: "#f41414" };
var frames = {
  a: { x: 97, y: 19 },
  b: { x: 738, y: 19 },
  c: { x: 97, y: 428 },
  d: { x: 738, y: 428 }
};
var plotW = 540, plotH = 324;
var fontSize = 24;

// series label positions (in data units of each panel)
var seriesLabels = {
  a: { P2: [5.384, -80.4], P1: [5.386, -91.2], P3: [5.476, -103.7], P4: [5.461, -131.3] },
  b: { P1: [5.060, -90.1], P3: [5.310, -86.0], P2: [5.471, -97.9], P4: [5.182, -117.7] },
  c: { P2: [5.401, -80.2], P1: [5.398, -91.0], P3: [5.414, -108.7], P4: [5.403, -130.5] },
  d: { P1: [5.039, -91.6], P3: [5.100, -102.2], P2: [5.466, -97.6], P4: [5.374, -131.6] }
};
// arrows: [from f, from dB, to f, to dB]
var arrows = {
  a: [[5.217, -139.4, 5.272, -131.0]],
  b: [[5.329, -129.6, 5.289, -118.6]],
  c: [[5.348, -139.3, 5.294, -122.6]],
  d: [[5.247, -139.5, 5.217, -120.8], [5.322, -139.7, 5.358, -123.6]]
};
// circled regions: [centre f, centre dB, rx px, ry px, gap start deg, gap end deg]
var circles = {
  b: [5.243, -113.0, 45, 39, 129, 180],
  c: [5.260, -116.4, 27, 47, 0, 0]
};

var svg = d3.select("#chart");

svg.append("defs").append("marker")
  .attr("id", "arrowHead")
  .attr("viewBox", "0 0 10 10")
  .attr("refX", 10).attr("refY", 5)
  .attr("markerWidth", 9).attr("markerHeight", 7)
  .attr("markerUnits", "userSpaceOnUse")
  .attr("orient", "auto")
  .append("path")
  .attr("d", "M0,0 L10,5 L0,10 z")
  .attr("fill", "#222");

panelNames.forEach(function(name) {
  var fr = frames[name];
  var x = d3.scaleLinear().domain([5.0, 5.6]).range([0, plotW]);
  var y = d3.scaleLinear().domain([-140, -70]).range([plotH, 0]);

  var g = svg.append("g").attr("transform", "translate(" + fr.x + "," + fr.y + ")");

  g.append("clipPath").attr("id", "clip-" + name)
    .append("rect").attr("width", plotW).attr("height", plotH);

  // curves
  var line = d3.line()
    .x(function(d) { return x(d[0]); })
    .y(function(d) { return y(d[1]); });

  var lines = g.append("g").attr("clip-path", "url(#clip-" + name + ")");
  seriesNames.forEach(function(s) {
    lines.append("path")
      .datum(panelData[name][s])
      .attr("d", line)
      .attr("fill", "none")
      .attr("stroke", colors[s])
      .attr("stroke-width", s == "P1" ? 1.5 : 1.7)
      .attr("stroke-linejoin", "round");
  });

  // axes, ticks pointing inwards on every side
  var xAxis = d3.axisBottom(x).tickValues(freqTicks).tickSize(-8).tickPadding(12).tickFormat(d3.format(".1f"));
  var yAxis = d3.axisLeft(y).tickValues(dbTicks).tickSize(-8).tickPadding(9);
  g.append("g").attr("transform", "translate(0," + plotH + ")").call(xAxis);
  g.append("g").call(yAxis);
  g.append("g").call(d3.axisTop(x).tickValues(freqTicks).tickSize(-8).tickFormat(""));
  g.append("g").attr("transform", "translate(" + plotW + ",0)")
    .call(d3.axisRight(y).tickValues(dbTicks).tickSize(-8).tickFormat(""));

  g.selectAll(".domain").remove();
  g.selectAll(".tick line").attr("stroke", "#333").attr("stroke-width", 1.4);
  g.selectAll(".tick text")
    .attr("font-family", "Liberation Serif, serif")
    .attr("font-size", fontSize)
    .attr("fill", "#222");

  g.append("rect")
    .attr("width", plotW).attr("height", plotH)
    .attr("fill", "none").attr("stroke", "#333").attr("stroke-width", 2);

  // axis titles
  g.append("text")
    .attr("x", plotW / 2).attr("y", plotH + 57)
    .attr("text-anchor", "middle").attr("font-size", fontSize)
    .text("Frequency, GHz");
  g.append("text")
    .attr("transform", "translate(" + (-67) + "," + (plotH / 2) + ") rotate(-90)")
    .attr("text-anchor", "middle").attr("font-size", 25)
    .text("Transmission, dB");

  // panel letter
  g.append("text")
    .attr("x", x(5.556)).attr("y", y(-78.9))
    .attr("font-size", 28).attr("font-style", "italic")
    .text(name);

  // series labels P with subscript
  var lbls = seriesLabels[name];
  Object.keys(lbls).forEach(function(s) {
    var t = g.append("text")
      .attr("x", x(lbls[s][0])).attr("y", y(lbls[s][1]))
      .attr("font-size", 25);
    t.append("tspan").attr("font-style", "italic").text("P");
    t.append("tspan").attr("font-size", 19).attr("dy", 6).text(s.slice(1));
  });

  // arrows
  arrows[name].forEach(function(a) {
    g.append("line")
      .attr("x1", x(a[0])).attr("y1", y(a[1]))
      .attr("x2", x(a[2])).attr("y2", y(a[3]))
      .attr("stroke", "#222").attr("stroke-width", 1.2)
      .attr("marker-end", "url(#arrowHead)");
  });

  // circled region
  var c = circles[name];
  if (c) {
    var cx = x(c[0]), cy = y(c[1]);
    if (c[4] == c[5]) {
      g.append("ellipse")
        .attr("cx", cx).attr("cy", cy).attr("rx", c[2]).attr("ry", c[3])
        .attr("fill", "none").attr("stroke", "#333").attr("stroke-width", 1.4);
    } else {
      var t0 = c[5] * Math.PI / 180, t1 = c[4] * Math.PI / 180;
      var p0 = [cx + c[2] * Math.cos(t0), cy + c[3] * Math.sin(t0)];
      var p1 = [cx + c[2] * Math.cos(t1), cy + c[3] * Math.sin(t1)];
      g.append("path")
        .attr("d", "M" + p0[0] + "," + p0[1] + " A" + c[2] + "," + c[3] + " 0 1 1 " + p1[0] + "," + p1[1])
        .attr("fill", "none").attr("stroke", "#222").attr("stroke-width", 1.4);
    }
  }
});
</script>
</body>
</html>
